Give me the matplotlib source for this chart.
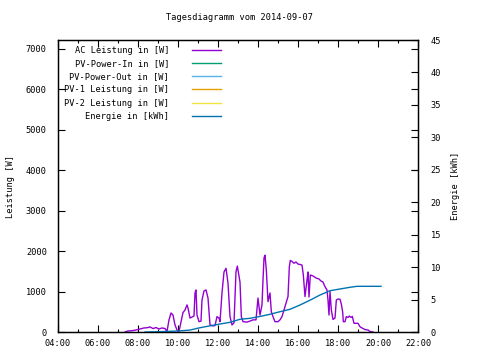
import matplotlib
matplotlib.use("Agg")
import matplotlib.pyplot as plt
from matplotlib.ticker import MultipleLocator, FuncFormatter

# ---- data ----
ac_times = ["07:21", "07:30", "07:42", "07:54", "08:06", "08:18", "08:27", "08:36", "08:45", "08:54",
            "09:03", "09:12", "09:21", "09:27", "09:33", "09:39", "09:45", "09:51", "09:57", "10:03",
            "10:09", "10:15", "10:21", "10:27", "10:30", "10:36", "10:42", "10:48", "10:51", "10:54",
            "10:57", "11:03", "11:09", "11:12", "11:18", "11:24", "11:30", "11:36", "11:45", "11:51",
            "11:57", "12:03", "12:06", "12:12", "12:18", "12:24", "12:30", "12:36", "12:42", "12:48",
            "12:54", "12:58", "13:06", "13:10", "13:15", "13:27", "13:36", "13:45", "13:54", "14:00",
            "14:06", "14:12", "14:15", "14:18", "14:21", "14:25", "14:30", "14:36", "14:40", "14:45",
            "14:51", "15:00", "15:06", "15:12", "15:18", "15:25", "15:30", "15:34", "15:37", "15:42",
            "15:48", "15:54", "16:00", "16:06", "16:12", "16:16", "16:21", "16:27", "16:30", "16:33",
            "16:37", "16:45", "16:54", "17:03", "17:09", "17:15", "17:21", "17:27", "17:30", "17:33",
            "17:36", "17:40", "17:45", "17:51", "17:55", "18:00", "18:06", "18:10", "18:14", "18:16",
            "18:21", "18:25", "18:30", "18:34", "18:39", "18:43", "18:48", "19:00", "19:06", "19:12",
            "19:21", "19:30", "19:36", "19:45"]
ac_power = [0, 25, 32, 50, 74, 100, 105, 125, 85, 110,
            75, 100, 85, 12, 300, 470, 420, 175, 50, 12,
            250, 480, 545, 670, 595, 345, 370, 395, 965, 1040,
            420, 255, 270, 790, 1015, 1040, 840, 175, 150, 160,
            380, 345, 255, 965, 1485, 1575, 1210, 380, 175, 225,
            1490, 1630, 1235, 380, 255, 245, 270, 300, 300, 840,
            420, 670, 1285, 1830, 1900, 1530, 750, 965, 500, 380,
            255, 255, 300, 380, 545, 740, 875, 1615, 1770, 1745,
            1700, 1730, 1680, 1670, 1655, 1410, 875, 1285, 1485, 865,
            1410, 1385, 1335, 1310, 1260, 1235, 1120, 1040, 790, 420,
            1000, 545, 310, 345, 790, 815, 810, 690, 495, 255,
            255, 380, 360, 395, 360, 385, 215, 215, 130, 100,
            60, 50, 12, 0]

pv_in_times, pv_in_power = [], []
pv_out_times, pv_out_power = [], []
pv1_times, pv1_power = [], []
pv2_times, pv2_power = [], []

energy_times = ["08:21", "09:06", "10:00", "10:36", "11:06", "11:36", "12:06", "12:36", "13:06", "13:36",
                "14:06", "14:36", "15:06", "15:36", "16:06", "16:36", "17:06", "17:36", "18:06", "18:36",
                "18:57", "20:09"]
energy_kwh = [0, 0.05, 0.15, 0.3, 0.66, 0.95, 1.23, 1.49, 1.96, 2.11,
              2.4, 2.73, 3.13, 3.5, 4.16, 4.9, 5.7, 6.36, 6.63, 6.89,
              7.04, 7.04]

legend_labels = ["AC Leistung in [W]", "PV-Power-In in [W]", "PV-Power-Out in [W]",
                 "PV-1 Leistung in [W]", "PV-2 Leistung in [W]", "Energie in [kWh]"]
colors = ["#9400d3", "#009e73", "#56b4e9", "#e69f00", "#f0e442", "#0072b2"]


def to_h(ts):
    return [int(t[:2]) + int(t[3:]) / 60.0 for t in ts]


FONT = "DejaVu Sans Mono"
FS = 6.2
plt.rcParams['font.family'] = FONT
plt.rcParams['font.size'] = FS

fig = plt.figure(figsize=(4.8, 3.6), dpi=100)
ax = fig.add_axes([58 / 480, 1 - 332 / 360, 360 / 480, 292 / 360])
ax2 = ax.twinx()

lw = 1.0
h = []
h += ax.plot(to_h(ac_times), ac_power, color=colors[0], lw=lw, label=legend_labels[0])
h += ax.plot(to_h(pv_in_times), pv_in_power, color=colors[1], lw=lw, label=legend_labels[1])
h += ax.plot(to_h(pv_out_times), pv_out_power, color=colors[2], lw=lw, label=legend_labels[2])
h += ax.plot(to_h(pv1_times), pv1_power, color=colors[3], lw=lw, label=legend_labels[3])
h += ax.plot(to_h(pv2_times), pv2_power, color=colors[4], lw=lw, label=legend_labels[4])
h += ax2.plot(to_h(energy_times), energy_kwh, color=colors[5], lw=lw, label=legend_labels[5])

ax.set_xlim(4, 22)
ax.set_ylim(0, 7220)
ax2.set_ylim(0, 45)

ax.xaxis.set_major_locator(MultipleLocator(2))
ax.xaxis.set_minor_locator(MultipleLocator(1))
ax.xaxis.set_major_formatter(FuncFormatter(lambda v, p: "%02d:00" % int(round(v))))
ax.yaxis.set_major_locator(MultipleLocator(1000))
ax2.yaxis.set_major_locator(MultipleLocator(5))

ax.tick_params(axis='x', which='both', direction='in', top=True, bottom=True, labelsize=FS, pad=5)
ax.tick_params(axis='x', which='major', length=5, width=0.8)
ax.tick_params(axis='x', which='minor', length=2.5, width=0.8)
ax.tick_params(axis='y', which='major', direction='in', left=True, right=True, length=5, width=0.8,
               labelsize=FS, pad=8)
ax2.tick_params(axis='y', which='major', direction='in', length=5, width=0.8, labelsize=FS, pad=9)

for sp in list(ax.spines.values()) + list(ax2.spines.values()):
    sp.set_linewidth(0.9)
    sp.set_color("black")

ax.set_ylabel("Leistung [W]", fontsize=FS, labelpad=8)
ax2.set_ylabel("Energie [kWh]", fontsize=FS, rotation=90, labelpad=7)
fig.text(0.5, 1 - 18 / 360, "Tagesdiagramm vom 2014-09-07", ha='center', va='center', fontsize=FS)

leg = ax2.legend(h, legend_labels, loc='upper left', bbox_to_anchor=(0.0, 1.0),
                 markerfirst=False, frameon=False, fontsize=FS,
                 handlelength=3.3, handletextpad=2.7, labelspacing=0.48, borderaxespad=0.3)

fig.savefig("out.png", dpi=100)
